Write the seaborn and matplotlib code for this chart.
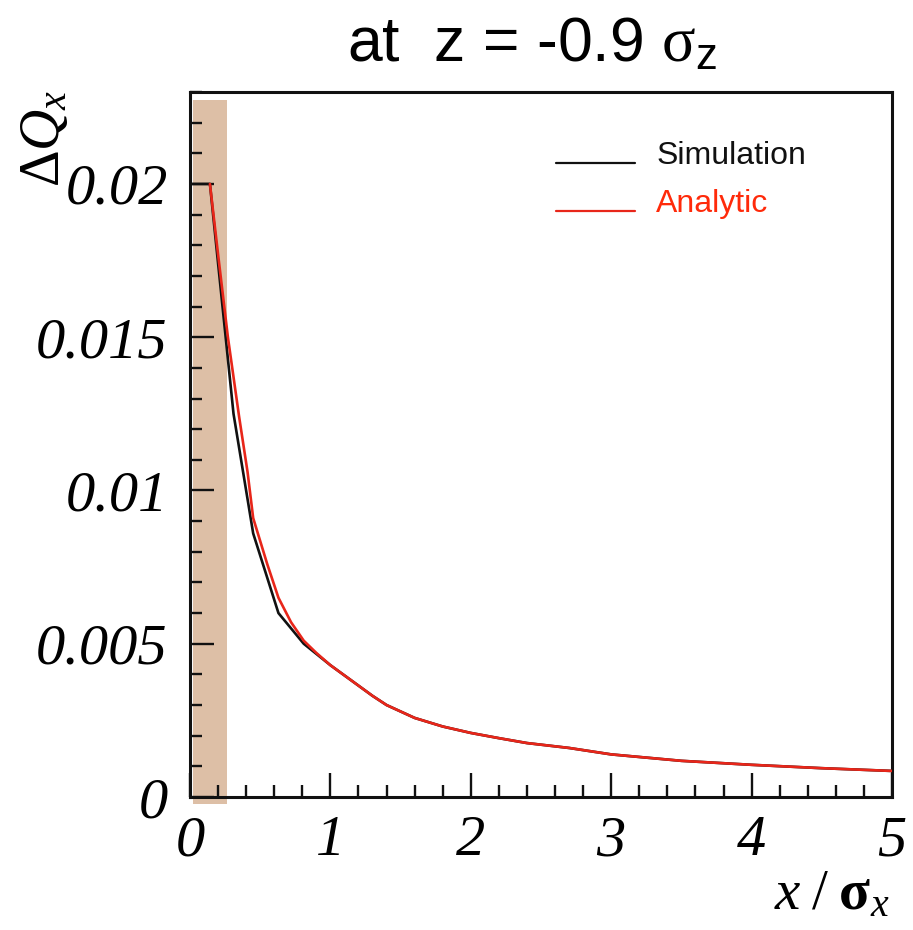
import matplotlib
matplotlib.use("Agg")
import matplotlib.pyplot as plt
import seaborn as sns
import pandas as pd
from matplotlib.ticker import MultipleLocator

# ---- data ----
sim_x = [0.0, 0.142, 0.31, 0.45, 0.63, 0.81, 1.0, 1.15, 1.3, 1.4, 1.6, 1.8, 2.0, 2.2, 2.4, 2.7, 3.0, 3.5, 4.0, 4.5, 5.0]
sim_y = [0.0200, 0.0200, 0.0125, 0.0086, 0.0060, 0.0050, 0.0043, 0.0038, 0.0033, 0.00300, 0.00258, 0.00230,
         0.00209, 0.00192, 0.00176, 0.00160, 0.00139, 0.00118, 0.00105, 0.00094, 0.00085]
ana_x = [0.142, 0.2, 0.27, 0.35, 0.41, 0.45, 0.55, 0.63, 0.72, 0.81, 0.9, 1.0, 1.15, 1.3, 1.4, 1.6, 1.8,
         2.0, 2.2, 2.4, 2.7, 3.0, 3.5, 4.0, 4.5, 5.0]
ana_y = [0.0200, 0.0177, 0.0150, 0.0124, 0.0106, 0.0091, 0.0076, 0.0065, 0.0057, 0.0051, 0.0047, 0.0043,
         0.0038, 0.0033, 0.00300, 0.00258, 0.00230, 0.00209, 0.00192, 0.00176, 0.00160, 0.00139,
         0.00118, 0.00105, 0.00094, 0.00085]
series_names = ["Simulation", "Analytic"]
x_ticks = [0, 1, 2, 3, 4, 5]
x_ticklabels = ["0", "1", "2", "3", "4", "5"]
y_ticks = [0, 0.005, 0.01, 0.015, 0.02]
y_ticklabels = ["0", "0.005", "0.01", "0.015", "0.02"]
band_x = [0.02, 0.26]

sns.set_theme(style="white")
plt.rcParams["font.family"] = ["Liberation Serif", "DejaVu Serif"]
plt.rcParams["mathtext.fontset"] = "custom"
plt.rcParams["mathtext.rm"] = "Liberation Serif"
plt.rcParams["mathtext.it"] = "Liberation Serif:italic"
plt.rcParams["mathtext.bf"] = "Liberation Serif:bold"
plt.rcParams["mathtext.sf"] = "Liberation Sans"

BLACK = "#111111"
RED = "#e8261a"
TAN = "#ddbfa6"

fig = plt.figure(figsize=(9.13, 9.30), dpi=100)
ax = fig.add_axes([190 / 913, 1 - 797 / 930, (892 - 190) / 913, (797 - 92) / 930])

# shaded band (extends slightly beyond the frame as in the reference)
ax.fill_between(band_x, [-0.00023, -0.00023], [0.02275, 0.02275], color=TAN, lw=0,
                clip_on=False, zorder=0.5)

df_sim = pd.DataFrame({"x": sim_x, "y": sim_y})
df_ana = pd.DataFrame({"x": ana_x, "y": ana_y})
sns.lineplot(data=df_sim, x="x", y="y", ax=ax, color=BLACK, lw=1.9, estimator=None,
             label=series_names[0], zorder=3)
sns.lineplot(data=df_ana, x="x", y="y", ax=ax, color=RED, lw=1.9, estimator=None,
             label=series_names[1], zorder=4)

ax.set_xlim(0, 5)
ax.set_ylim(0, 0.023)
ax.xaxis.set_minor_locator(MultipleLocator(0.2))
ax.yaxis.set_minor_locator(MultipleLocator(0.001))
ax.set_yticks(y_ticks)
ax.set_yticklabels(y_ticklabels)
ax.set_xticks(x_ticks)
ax.set_xticklabels(x_ticklabels)

ax.tick_params(axis="both", which="both", direction="in", color="#111111",
               bottom=True, left=True, top=False, right=False)
ax.tick_params(axis="both", which="major", length=17, width=1.7, labelsize=42, pad=16)
ax.tick_params(axis="both", which="minor", length=8.5, width=1.7)
ax.tick_params(axis="x", which="major", pad=13)
for lab in ax.get_xticklabels() + ax.get_yticklabels():
    lab.set_fontstyle("italic")
    lab.set_color("black")

for s in ax.spines.values():
    s.set_linewidth(2.2)
    s.set_color("#111111")
ax.set_xlabel("")
ax.set_ylabel("")
ax.grid(False)

leg = ax.legend(loc="upper left", bbox_to_anchor=(0.481, 0.971), frameon=False,
                prop={"family": "Liberation Sans", "size": 23},
                handlelength=2.47, handletextpad=0.66, labelspacing=0.56)
for txt, col in zip(leg.get_texts(), [BLACK, "#ff2a0a"]):
    txt.set_color(col)
for h in leg.get_lines():
    h.set_linewidth(1.6)
    yd = h.get_ydata()
    h.set_ydata([v - 7 for v in yd])

# axis titles
fig.text(45 / 913, 1 - 138 / 930, r"$\Delta Q_{x}$", rotation=90, ha="center", va="center",
         fontsize=41, color="black")
fig.text(832 / 913, 1 - 895 / 930, r"$x\;/\;\mathbf{\sigma}_{x}$", ha="center", va="center",
         fontsize=41, color="black")

# title
fig.text(532 / 913, 1 - 45 / 930, r"at  z = -0.9 $\mathrm{\sigma}_{\mathsf{z}}$", ha="center",
         va="center", fontsize=45, family="Liberation Sans", color="black")

fig.savefig("out.png", dpi=100)
